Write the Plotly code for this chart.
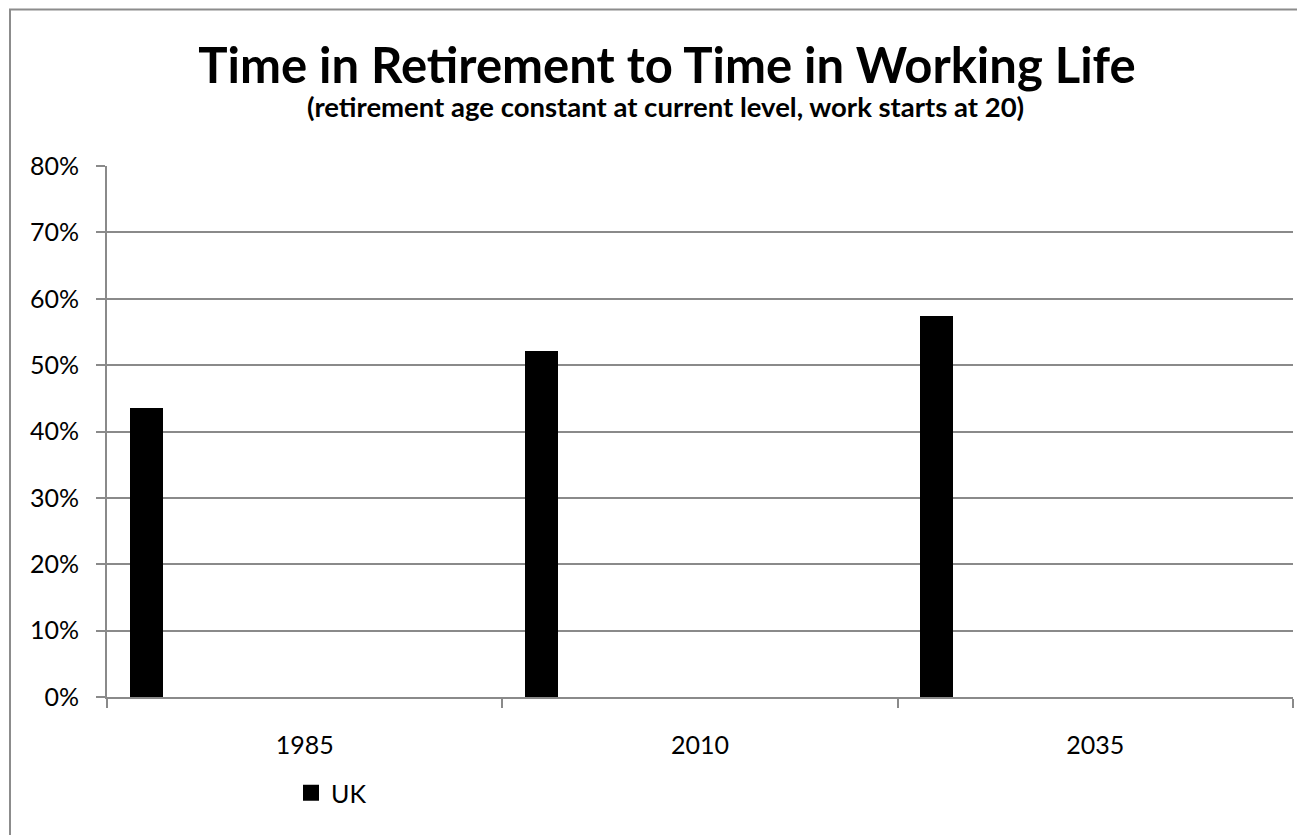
import plotly.graph_objects as go

categories = ["1985", "2010", "2035"]
uk_values = [0.435, 0.521, 0.574]
y_ticks = [0, 0.1, 0.2, 0.3, 0.4, 0.5, 0.6, 0.7, 0.8]

FONT = "Lato"
GRID = "#8a8a8a"

fig = go.Figure()
fig.add_trace(go.Bar(
    x=categories, y=uk_values, name="UK", showlegend=False,
    marker=dict(color="black", line=dict(width=0)),
    width=0.084, offset=-0.443,
))
# legend entry with a larger square swatch
fig.add_trace(go.Scatter(
    x=[None], y=[None], name="UK", mode="markers",
    marker=dict(symbol="square", size=17, color="black"),
    showlegend=True,
))

W, H = 1305, 835
OFF = 8  # page body margin
# plot area in page pixels: x 107..1293, y 166..697
L = 107 - OFF
T = 166 - OFF
R = W - (1293 - OFF)
B = H - (697 - OFF)
pw = 1293 - 107
ph = 697 - 166

def px_x(x):
    return (x - 107) / pw

def px_y(y):
    return (697 - y) / ph

fig.update_layout(
    width=W, height=H,
    margin=dict(l=L, r=R, t=T, b=B, pad=0, autoexpand=False),
    paper_bgcolor="white",
    plot_bgcolor="white",
    font=dict(family=FONT, color="black", size=25),
    title=dict(
        text="<b>Time in Retirement to Time in Working Life</b>",
        font=dict(family=FONT, size=49, color="black"),
        xref="container", yref="container",
        x=(667 - OFF) / W, y=1 - (66 - OFF) / H, xanchor="center", yanchor="middle",
    ),
    annotations=[dict(
        text="<b>(retirement age constant at current level, work starts at 20)</b>",
        xref="paper", yref="paper", x=px_x(665), y=px_y(107),
        xanchor="center", yanchor="middle", showarrow=False,
        font=dict(family=FONT, size=27.5, color="black"),
    )],
    shapes=[dict(
        type="rect", xref="paper", yref="paper", layer="below",
        x0=px_x(10), x1=px_x(1340), y0=px_y(900), y1=px_y(9.5),
        line=dict(color="#8c8c8c", width=2), fillcolor="white",
    )],
    showlegend=True,
    legend=dict(
        orientation="h", x=px_x(291), y=px_y(793),
        xanchor="left", yanchor="middle",
        font=dict(family=FONT, size=25, color="black"),
        bgcolor="rgba(0,0,0,0)",
    ),
    bargap=0,
)

fig.update_xaxes(
    type="category", range=[-0.5, 2.5], automargin=False,
    tickson="boundaries", ticks="outside", ticklen=9, tickwidth=2, tickcolor=GRID,
    showline=True, linecolor=GRID, linewidth=2,
    showgrid=False, zeroline=False,
    tickfont=dict(family=FONT, size=25, color="black"),
    ticklabelstandoff=25,
)
fig.update_yaxes(
    range=[0, 0.8], tickvals=y_ticks, tickformat=".0%", automargin=False,
    ticks="outside", ticklen=9, tickwidth=2, tickcolor=GRID,
    showline=True, linecolor=GRID, linewidth=2,
    showgrid=True, gridcolor=GRID, gridwidth=2, zeroline=False,
    tickfont=dict(family=FONT, size=25, color="black"),
    ticklabelstandoff=12,
)

fig.write_html("out.html")
